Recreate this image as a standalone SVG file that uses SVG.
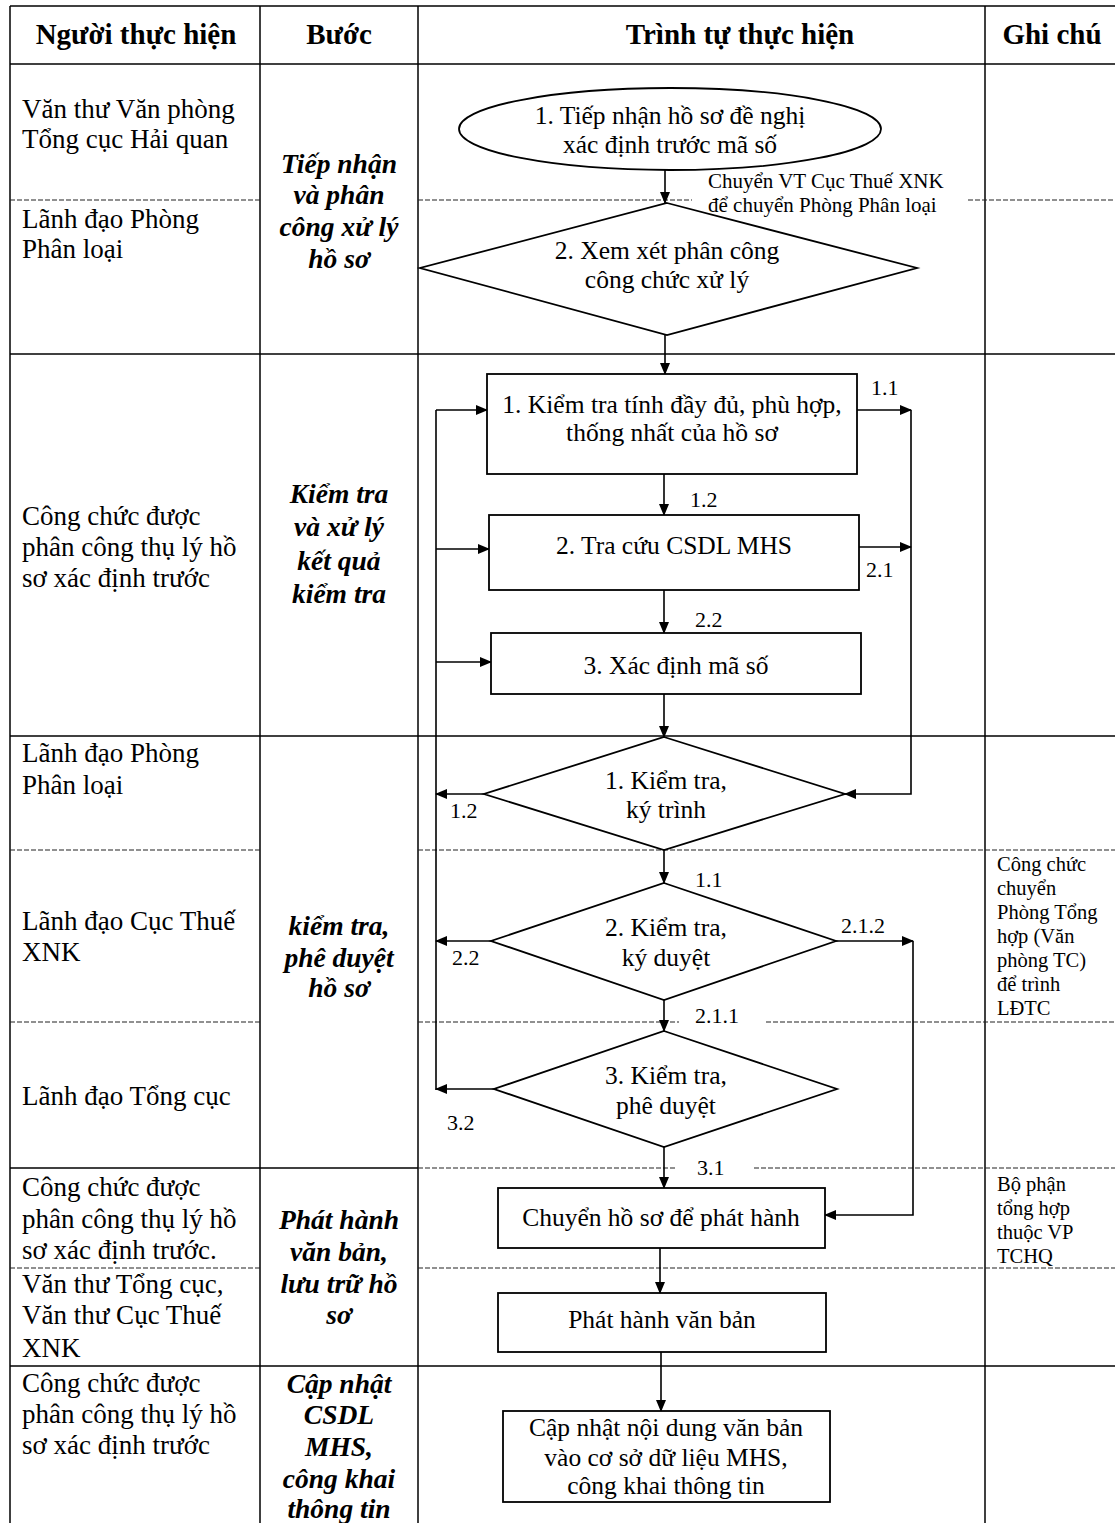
<svg xmlns="http://www.w3.org/2000/svg" width="1115" height="1523" viewBox="0 0 1115 1523">
<style>
.grid{stroke:#000;stroke-width:1.5;fill:none}
.dash{stroke:#222;stroke-width:1.2;stroke-dasharray:5,2;fill:none}
.shape{fill:#fff;stroke:#000;stroke-width:1.8}
.conn{stroke:#000;stroke-width:1.6;fill:none}
text{font-family:"Liberation Serif","Times New Roman",serif;fill:#000}
.h{font-size:29px;font-weight:bold;text-anchor:middle}
.l{font-size:27px}
.b{font-size:27.5px;font-weight:bold;font-style:italic;text-anchor:middle}
.m{font-size:25.5px;text-anchor:middle}
.s{font-size:21px}
.n{font-size:20.5px}
.lab{font-size:22px}
</style>
<defs>
<marker id="ah" markerWidth="12" markerHeight="10" refX="11" refY="5" orient="auto" markerUnits="userSpaceOnUse">
<path d="M0,0 L12,5 L0,10 Z" fill="#000"/>
</marker>
</defs>
<rect width="1115" height="1523" fill="#fff"/>
<g id="table">
<line class="grid" x1="10" y1="6" x2="1115" y2="6"/>
<line class="grid" x1="10" y1="6" x2="10" y2="1523"/>
<line class="grid" x1="260" y1="6" x2="260" y2="1523"/>
<line class="grid" x1="418" y1="6" x2="418" y2="1523"/>
<line class="grid" x1="985" y1="6" x2="985" y2="1523"/>
<line class="grid" x1="10" y1="64" x2="1115" y2="64"/>
<line class="dash" x1="10" y1="200" x2="260" y2="200"/>
<line class="dash" x1="418" y1="200" x2="692" y2="200"/>
<line class="dash" x1="968" y1="200" x2="1115" y2="200"/>
<line class="grid" x1="10" y1="354" x2="1115" y2="354"/>
<line class="grid" x1="10" y1="736" x2="1115" y2="736"/>
<line class="dash" x1="10" y1="850" x2="260" y2="850"/>
<line class="dash" x1="418" y1="850" x2="1115" y2="850"/>
<line class="dash" x1="10" y1="1022" x2="260" y2="1022"/>
<line class="dash" x1="418" y1="1022" x2="679" y2="1022"/>
<line class="dash" x1="766" y1="1022" x2="1115" y2="1022"/>
<line class="grid" x1="10" y1="1168" x2="418" y2="1168"/>
<line class="dash" x1="418" y1="1168" x2="676" y2="1168"/>
<line class="dash" x1="754" y1="1168" x2="1115" y2="1168"/>
<line class="dash" x1="10" y1="1268" x2="260" y2="1268"/>
<line class="dash" x1="418" y1="1268" x2="1115" y2="1268"/>
<line class="grid" x1="10" y1="1366" x2="1115" y2="1366"/>
</g>
<g id="headers">
<text class="h" x="136" y="44">Người thực hiện</text>
<text class="h" x="339" y="44">Bước</text>
<text class="h" x="740" y="44">Trình tự thực hiện</text>
<text class="h" x="1052" y="44">Ghi chú</text>
</g>
<g id="actors">
<text class="l" x="22" y="118">Văn thư Văn phòng</text>
<text class="l" x="22" y="148">Tổng cục Hải quan</text>
<text class="l" x="22" y="228">Lãnh đạo Phòng</text>
<text class="l" x="22" y="258">Phân loại</text>
<text class="l" x="22" y="525">Công chức được</text>
<text class="l" x="22" y="556">phân công thụ lý hồ</text>
<text class="l" x="22" y="587">sơ xác định trước</text>
<text class="l" x="22" y="762">Lãnh đạo Phòng</text>
<text class="l" x="22" y="794">Phân loại</text>
<text class="l" x="22" y="930">Lãnh đạo Cục Thuế</text>
<text class="l" x="22" y="961">XNK</text>
<text class="l" x="22" y="1105">Lãnh đạo Tổng cục</text>
<text class="l" x="22" y="1196">Công chức được</text>
<text class="l" x="22" y="1228">phân công thụ lý hồ</text>
<text class="l" x="22" y="1259">sơ xác định trước.</text>
<text class="l" x="22" y="1293">Văn thư Tổng cục,</text>
<text class="l" x="22" y="1324">Văn thư Cục Thuế</text>
<text class="l" x="22" y="1357">XNK</text>
<text class="l" x="22" y="1392">Công chức được</text>
<text class="l" x="22" y="1423">phân công thụ lý hồ</text>
<text class="l" x="22" y="1454">sơ xác định trước</text>
</g>
<g id="steps">
<text class="b" x="339" y="173">Tiếp nhận</text>
<text class="b" x="339" y="204">và phân</text>
<text class="b" x="339" y="236">công xử lý</text>
<text class="b" x="339" y="268">hồ sơ</text>
<text class="b" x="339" y="503">Kiểm tra</text>
<text class="b" x="339" y="536">và xử lý</text>
<text class="b" x="339" y="570">kết quả</text>
<text class="b" x="339" y="603">kiểm tra</text>
<text class="b" x="339" y="935">kiểm tra,</text>
<text class="b" x="339" y="967">phê duyệt</text>
<text class="b" x="339" y="997">hồ sơ</text>
<text class="b" x="339" y="1229">Phát hành</text>
<text class="b" x="339" y="1261">văn bản,</text>
<text class="b" x="339" y="1293">lưu trữ hồ</text>
<text class="b" x="339" y="1324">sơ</text>
<text class="b" x="339" y="1393">Cập nhật</text>
<text class="b" x="339" y="1424">CSDL</text>
<text class="b" x="339" y="1456">MHS,</text>
<text class="b" x="339" y="1488">công khai</text>
<text class="b" x="339" y="1518">thông tin</text>
</g>
<g id="notes">
<text class="n" x="997" y="871">Công chức</text>
<text class="n" x="997" y="895">chuyển</text>
<text class="n" x="997" y="919">Phòng Tổng</text>
<text class="n" x="997" y="943">hợp (Văn</text>
<text class="n" x="997" y="967">phòng TC)</text>
<text class="n" x="997" y="991">để trình</text>
<text class="n" x="997" y="1015">LĐTC</text>
<text class="n" x="997" y="1191">Bộ phận</text>
<text class="n" x="997" y="1215">tổng hợp</text>
<text class="n" x="997" y="1239">thuộc VP</text>
<text class="n" x="997" y="1263">TCHQ</text>
</g>
<g id="connectors">
<line class="conn" x1="665" y1="170" x2="665" y2="203" marker-end="url(#ah)"/>
<line class="conn" x1="665" y1="335" x2="665" y2="374" marker-end="url(#ah)"/>
<line class="conn" x1="664" y1="474" x2="664" y2="515" marker-end="url(#ah)"/>
<line class="conn" x1="664" y1="590" x2="664" y2="633" marker-end="url(#ah)"/>
<line class="conn" x1="664" y1="694" x2="664" y2="737" marker-end="url(#ah)"/>
<line class="conn" x1="857" y1="410" x2="911" y2="410" marker-end="url(#ah)"/>
<line class="conn" x1="859" y1="547" x2="911" y2="547" marker-end="url(#ah)"/>
<polyline class="conn" points="911,410 911,794 845,794" marker-end="url(#ah)"/>
<line class="conn" x1="436" y1="410" x2="436" y2="1090"/>
<line class="conn" x1="436" y1="410" x2="487" y2="410" marker-end="url(#ah)"/>
<line class="conn" x1="436" y1="549" x2="489" y2="549" marker-end="url(#ah)"/>
<line class="conn" x1="436" y1="662" x2="491" y2="662" marker-end="url(#ah)"/>
<line class="conn" x1="484" y1="794" x2="436" y2="794" marker-end="url(#ah)"/>
<line class="conn" x1="664" y1="850" x2="664" y2="883" marker-end="url(#ah)"/>
<line class="conn" x1="491" y1="941" x2="436" y2="941" marker-end="url(#ah)"/>
<line class="conn" x1="836" y1="941" x2="913" y2="941" marker-end="url(#ah)"/>
<polyline class="conn" points="913,941 913,1215 825,1215" marker-end="url(#ah)"/>
<line class="conn" x1="664" y1="1000" x2="664" y2="1031" marker-end="url(#ah)"/>
<line class="conn" x1="494" y1="1089" x2="436" y2="1089" marker-end="url(#ah)"/>
<line class="conn" x1="664" y1="1147" x2="664" y2="1188" marker-end="url(#ah)"/>
<line class="conn" x1="660" y1="1248" x2="660" y2="1293" marker-end="url(#ah)"/>
<line class="conn" x1="661" y1="1352" x2="661" y2="1411" marker-end="url(#ah)"/>
<text class="s" x="708" y="188">Chuyển VT Cục Thuế XNK</text>
<text class="s" x="708" y="212">để chuyển Phòng Phân loại</text>
<text class="lab" x="871" y="395">1.1</text>
<text class="lab" x="690" y="507">1.2</text>
<text class="lab" x="866" y="577">2.1</text>
<text class="lab" x="695" y="627">2.2</text>
<text class="lab" x="450" y="818">1.2</text>
<text class="lab" x="695" y="887">1.1</text>
<text class="lab" x="452" y="965">2.2</text>
<text class="lab" x="841" y="933">2.1.2</text>
<text class="lab" x="695" y="1023">2.1.1</text>
<text class="lab" x="447" y="1130">3.2</text>
<text class="lab" x="697" y="1175">3.1</text>
</g>
<g id="n-receive">
<ellipse class="shape" cx="670" cy="129" rx="211" ry="41"/>
<text class="m" x="670" y="124">1. Tiếp nhận hồ sơ đề nghị</text>
<text class="m" x="670" y="153">xác định trước mã số</text>
</g>
<g id="n-assign">
<polygon class="shape" points="667,203 917,268 667,335 420,268"/>
<text class="m" x="667" y="259">2. Xem xét phân công</text>
<text class="m" x="667" y="288">công chức xử lý</text>
</g>
<g id="n-check1">
<rect class="shape" x="487" y="374" width="370" height="100"/>
<text class="m" x="672" y="413">1. Kiểm tra tính đầy đủ, phù hợp,</text>
<text class="m" x="672" y="441">thống nhất của hồ sơ</text>
</g>
<g id="n-lookup">
<rect class="shape" x="489" y="515" width="370" height="75"/>
<text class="m" x="674" y="554">2. Tra cứu CSDL MHS</text>
</g>
<g id="n-code">
<rect class="shape" x="491" y="633" width="370" height="61"/>
<text class="m" x="676" y="674">3. Xác định mã số</text>
</g>
<g id="n-sign">
<polygon class="shape" points="664,737 845,794 664,850 484,794"/>
<text class="m" x="666" y="789">1. Kiểm tra,</text>
<text class="m" x="666" y="818">ký trình</text>
</g>
<g id="n-approve1">
<polygon class="shape" points="664,883 836,941 664,1000 491,941"/>
<text class="m" x="666" y="936">2. Kiểm tra,</text>
<text class="m" x="666" y="966">ký duyệt</text>
</g>
<g id="n-approve2">
<polygon class="shape" points="664,1031 837,1089 664,1147 494,1089"/>
<text class="m" x="666" y="1084">3. Kiểm tra,</text>
<text class="m" x="666" y="1114">phê duyệt</text>
</g>
<g id="n-transfer">
<rect class="shape" x="498" y="1188" width="327" height="60"/>
<text class="m" x="661" y="1226">Chuyển hồ sơ để phát hành</text>
</g>
<g id="n-issue">
<rect class="shape" x="498" y="1293" width="328" height="59"/>
<text class="m" x="662" y="1328">Phát hành văn bản</text>
</g>
<g id="n-update">
<rect class="shape" x="503" y="1411" width="327" height="91"/>
<text class="m" x="666" y="1436">Cập nhật nội dung văn bản</text>
<text class="m" x="666" y="1466">vào cơ sở dữ liệu MHS,</text>
<text class="m" x="666" y="1494">công khai thông tin</text>
</g>
</svg>
